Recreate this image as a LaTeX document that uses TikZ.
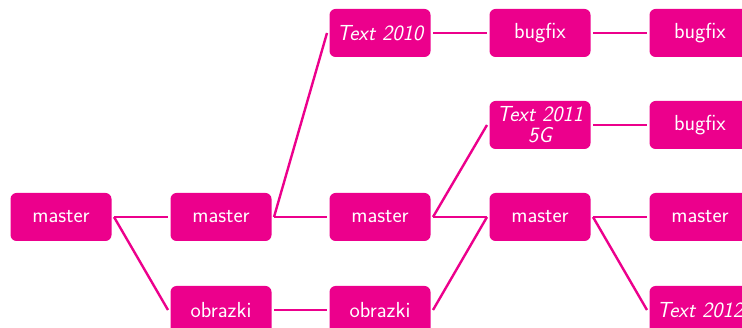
\documentclass[tikz,border=0pt]{standalone}
\usepackage{tikz}
\usetikzlibrary{positioning}
\definecolor{branchpink}{RGB}{236,0,140}

\tikzset{
commit/.style={fill=branchpink, text=white, rounded corners=6pt,
  minimum width=101, minimum height=48, inner sep=2pt, outer sep=2.5pt,
  font=\sffamily\fontsize{21.8}{21}\selectfont, align=center},
tag/.style={commit, font=\sffamily\itshape\fontsize{21.8}{21}\selectfont},
link/.style={draw=branchpink, line width=2.4pt},
}

\begin{document}
\begin{tikzpicture}[x=1pt, y=1pt]
\clip (0,0) rectangle (742,-328);
\useasboundingbox (0,0) rectangle (742,-328);

\node[commit] (m1) at (61,-217) {master};
\node[commit] (m2) at (221,-217) {master};
\node[commit] (o2) at (221,-310) {obrazki};
\node[tag]    (t10) at (380,-33) {Text 2010};
\node[commit] (m3) at (380,-217) {master};
\node[commit] (o3) at (380,-310) {obrazki};
\node[commit] (b1) at (540,-33) {bugfix};
\node[tag]    (t11) at (540,-125) {Text 2011\\5G};
\node[commit] (m4) at (540,-217) {master};
\node[commit] (b2) at (700,-33) {bugfix};
\node[commit] (b3) at (700,-125) {bugfix};
\node[commit] (m5) at (700,-217) {master};
\node[tag]    (t12) at (700,-310) {Text 2012};

\draw[link] (m1.east) -- (m2.west);
\draw[link] (m1.east) -- (o2.west);
\draw[link] (m2.east) -- (t10.west);
\draw[link] (m2.east) -- (m3.west);
\draw[link] (o2.east) -- (o3.west);
\draw[link] (t10.east) -- (b1.west);
\draw[link] (b1.east) -- (b2.west);
\draw[link] (m3.east) -- (t11.west);
\draw[link] (m3.east) -- (m4.west);
\draw[link] (o3.east) -- (m4.west);
\draw[link] (t11.east) -- (b3.west);
\draw[link] (m4.east) -- (m5.west);
\draw[link] (m4.east) -- (t12.west);

\end{tikzpicture}
\end{document}
